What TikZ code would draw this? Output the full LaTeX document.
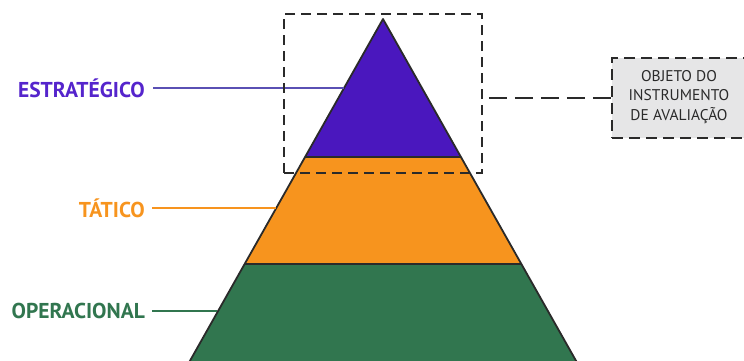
\documentclass[tikz,border=0pt]{standalone}
\usepackage{fontspec}
\setmainfont{PT Sans}
\definecolor{cPurple}{HTML}{4A17BE}
\definecolor{cPurpleTxt}{HTML}{5524CC}
\definecolor{cPurpleLine}{HTML}{5A50B4}
\definecolor{cOrange}{HTML}{F7941E}
\definecolor{cGreen}{HTML}{31764F}
\definecolor{cGray}{HTML}{E6E6E7}
\definecolor{cDark}{HTML}{2A2A2A}
\tikzset{
  layer/.style={draw=cDark, line width=1.8pt, line join=round},
  lbl/.style={anchor=east, inner sep=0pt, font=\fontsize{21.5}{24}\selectfont\bfseries},
  lead/.style={line width=1.6pt},
  dbox/.style={draw=cDark, line width=1.8pt, dash pattern=on 10pt off 6pt, minimum width=198pt, minimum height=159pt, inner sep=0pt},
  cbox/.style={draw=cDark, fill=cGray, line width=1.8pt, dash pattern=on 11pt off 6pt, minimum width=150pt, minimum height=80pt, inner sep=0pt},
  ctext/.style={align=center, text=cDark, font=\fontsize{15.5}{19.5}\selectfont, inner sep=0pt},
}
\begin{document}
\begin{tikzpicture}[x=1pt,y=-1pt]
\useasboundingbox (0,0) rectangle (744,360);
\clip (0,0) rectangle (744,360);
% pyramid layers (apex 383,19; slope 0.565)
\fill[cGreen] (244.6,264) -- (521.4,264) -- (588,382) -- (178,382) -- cycle;
\fill[cOrange] (305,157) -- (461,157) -- (521.4,264) -- (244.6,264) -- cycle;
\fill[cPurple] (383,19) -- (461,157) -- (305,157) -- cycle;
\draw[layer] (178,382) -- (383,19) -- (588,382);
\draw[layer] (305,157) -- (461,157);
\draw[layer] (244.6,264) -- (521.4,264);
% labels
\node[lbl, text=cPurpleTxt] (estr) at (145,88) {ESTRATÉGICO};
\node[lbl, text=cOrange] (tat) at (145,208) {TÁTICO};
\node[lbl, text=cGreen] (oper) at (145,311) {OPERACIONAL};
\coordinate (pE) at (343.5,88);
\coordinate (pT) at (276,208);
\coordinate (pO) at (217,311);
\draw[lead, cPurpleLine] ([xshift=8pt]estr.east) -- (pE);
\draw[lead, cOrange] ([xshift=7pt]tat.east) -- (pT);
\draw[lead, cGreen] ([xshift=7pt]oper.east) -- (pO);
% dashed selection box
\node[dbox] (sel) at (383,93.5) {};
% callout
\node[cbox] (callout) at (687,98) {};
\node[ctext] (calltext) at (679,97) {OBJETO DO\\INSTRUMENTO\\DE AVALIAÇÃO};
\draw[cDark, line width=1.8pt, dash pattern=on 18pt off 8pt, dash phase=-6pt] (sel.east |- callout.west) -- (callout.west);
\end{tikzpicture}
\end{document}
